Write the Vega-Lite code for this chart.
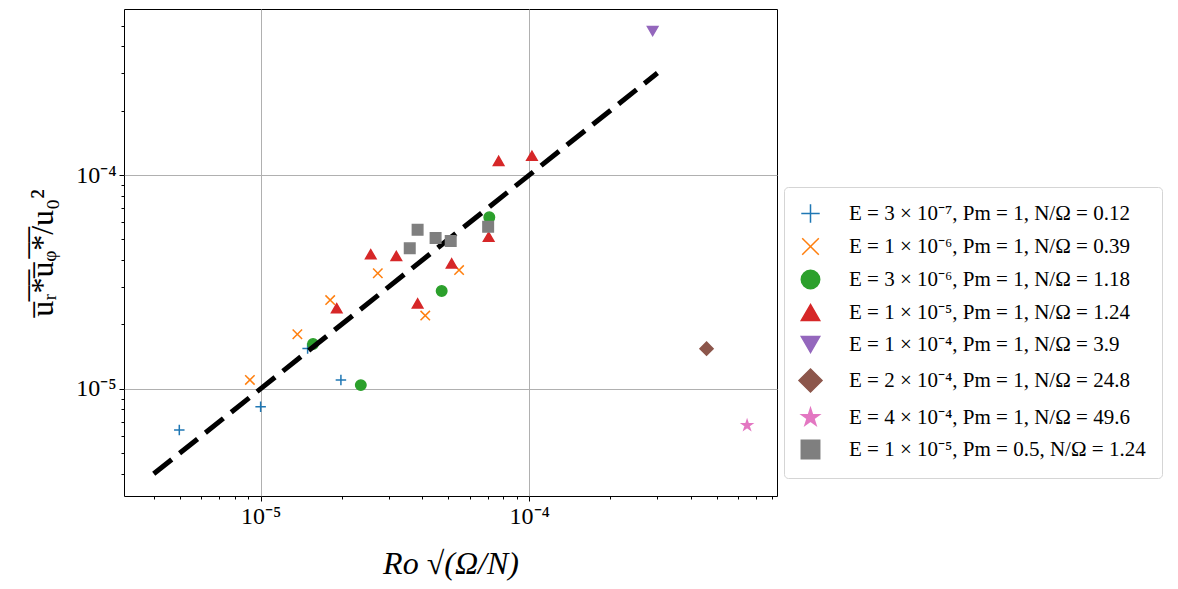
{
  "$schema": "https://vega.github.io/schema/vega-lite/v6.json",
  "width": 653,
  "height": 487,
  "autosize": {"type": "none"},
  "padding": {"left": 124, "top": 9, "right": 401, "bottom": 93},
  "background": "white",
  "datasets": {
    "pts": [
      {"ro": 4.98e-6, "flux": 6.41e-6, "case": "E = 3 × 10⁻⁷, Pm = 1, N/Ω = 0.12"},
      {"ro": 1.0e-5, "flux": 8.24e-6, "case": "E = 3 × 10⁻⁷, Pm = 1, N/Ω = 0.12"},
      {"ro": 1.496e-5, "flux": 1.545e-5, "case": "E = 3 × 10⁻⁷, Pm = 1, N/Ω = 0.12"},
      {"ro": 1.99e-5, "flux": 1.10e-5, "case": "E = 3 × 10⁻⁷, Pm = 1, N/Ω = 0.12"},
      {"ro": 9.12e-6, "flux": 1.10e-5, "case": "E = 1 × 10⁻⁶, Pm = 1, N/Ω = 0.39"},
      {"ro": 1.37e-5, "flux": 1.80e-5, "case": "E = 1 × 10⁻⁶, Pm = 1, N/Ω = 0.39"},
      {"ro": 1.815e-5, "flux": 2.60e-5, "case": "E = 1 × 10⁻⁶, Pm = 1, N/Ω = 0.39"},
      {"ro": 2.73e-5, "flux": 3.47e-5, "case": "E = 1 × 10⁻⁶, Pm = 1, N/Ω = 0.39"},
      {"ro": 4.10e-5, "flux": 2.20e-5, "case": "E = 1 × 10⁻⁶, Pm = 1, N/Ω = 0.39"},
      {"ro": 5.48e-5, "flux": 3.59e-5, "case": "E = 1 × 10⁻⁶, Pm = 1, N/Ω = 0.39"},
      {"ro": 1.567e-5, "flux": 1.62e-5, "case": "E = 3 × 10⁻⁶, Pm = 1, N/Ω = 1.18"},
      {"ro": 2.36e-5, "flux": 1.04e-5, "case": "E = 3 × 10⁻⁶, Pm = 1, N/Ω = 1.18"},
      {"ro": 4.72e-5, "flux": 2.87e-5, "case": "E = 3 × 10⁻⁶, Pm = 1, N/Ω = 1.18"},
      {"ro": 7.10e-5, "flux": 6.35e-5, "case": "E = 3 × 10⁻⁶, Pm = 1, N/Ω = 1.18"},
      {"ro": 1.92e-5, "flux": 2.38e-5, "case": "E = 1 × 10⁻⁵, Pm = 1, N/Ω = 1.24"},
      {"ro": 2.57e-5, "flux": 4.26e-5, "case": "E = 1 × 10⁻⁵, Pm = 1, N/Ω = 1.24"},
      {"ro": 3.20e-5, "flux": 4.18e-5, "case": "E = 1 × 10⁻⁵, Pm = 1, N/Ω = 1.24"},
      {"ro": 3.84e-5, "flux": 2.51e-5, "case": "E = 1 × 10⁻⁵, Pm = 1, N/Ω = 1.24"},
      {"ro": 5.14e-5, "flux": 3.86e-5, "case": "E = 1 × 10⁻⁵, Pm = 1, N/Ω = 1.24"},
      {"ro": 7.06e-5, "flux": 5.14e-5, "case": "E = 1 × 10⁻⁵, Pm = 1, N/Ω = 1.24"},
      {"ro": 7.69e-5, "flux": 1.165e-4, "case": "E = 1 × 10⁻⁵, Pm = 1, N/Ω = 1.24"},
      {"ro": 1.023e-4, "flux": 1.23e-4, "case": "E = 1 × 10⁻⁵, Pm = 1, N/Ω = 1.24"},
      {"ro": 2.88e-4, "flux": 4.72e-4, "case": "E = 1 × 10⁻⁴, Pm = 1, N/Ω = 3.9"},
      {"ro": 4.57e-4, "flux": 1.54e-5, "case": "E = 2 × 10⁻⁴, Pm = 1, N/Ω = 24.8"},
      {"ro": 6.47e-4, "flux": 6.74e-6, "case": "E = 4 × 10⁻⁴, Pm = 1, N/Ω = 49.6"},
      {"ro": 3.84e-5, "flux": 5.54e-5, "case": "E = 1 × 10⁻⁵, Pm = 0.5, N/Ω = 1.24"},
      {"ro": 4.48e-5, "flux": 5.07e-5, "case": "E = 1 × 10⁻⁵, Pm = 0.5, N/Ω = 1.24"},
      {"ro": 3.59e-5, "flux": 4.54e-5, "case": "E = 1 × 10⁻⁵, Pm = 0.5, N/Ω = 1.24"},
      {"ro": 5.10e-5, "flux": 4.91e-5, "case": "E = 1 × 10⁻⁵, Pm = 0.5, N/Ω = 1.24"},
      {"ro": 7.03e-5, "flux": 5.73e-5, "case": "E = 1 × 10⁻⁵, Pm = 0.5, N/Ω = 1.24"}
    ],
    "fit": [
      {"ro": 4.0e-6, "flux": 4.0e-6},
      {"ro": 3.0e-4, "flux": 3.0e-4}
    ]
  },
  "config": {
    "view": {"stroke": "black", "strokeWidth": 1},
    "axis": {
      "domain": false,
      "grid": true,
      "gridColor": "#b0b0b0",
      "gridWidth": 1,
      "gridOpacity": {"condition": {"test": "abs(log(datum.value)/LN10 - round(log(datum.value)/LN10)) < 0.001", "value": 1}, "value": 0},
      "tickColor": "black",
      "tickWidth": 1,
      "tickSize": {"condition": {"test": "abs(log(datum.value)/LN10 - round(log(datum.value)/LN10)) < 0.001", "value": 5}, "value": 3},
      "labelFont": "Liberation Serif",
      "labelFontSize": 24,
      "labelColor": "black",
      "labelOverlap": false,
      "labelFlush": false,
      "labelPadding": 3,
      "titleFont": "Liberation Serif",
      "titleFontSize": 32,
      "titleFontWeight": "normal",
      "titleColor": "black"
    },
    "legend": {
      "orient": "none",
      "legendX": 660,
      "legendY": 178,
      "padding": 16,
      "strokeColor": "#d5d5d5",
      "fillColor": "white",
      "cornerRadius": 4,
      "labelFont": "Liberation Serif",
      "labelFontSize": 21,
      "labelColor": "black",
      "labelLimit": 500,
      "labelOffset": 28,
      "rowPadding": 9,
      "symbolSize": 340,
      "symbolStrokeWidth": 1.5
    }
  },
  "encoding": {
    "x": {
      "field": "ro", "type": "quantitative",
      "scale": {"type": "log", "domain": [3.1e-6, 8.36e-4], "nice": false},
      "axis": {
        "title": "Ro √(Ω/N)",
        "titleFontStyle": "italic",
        "titlePadding": 20,
        "values": [4e-6, 5e-6, 6e-6, 7e-6, 8e-6, 9e-6, 1e-5, 2e-5, 3e-5, 4e-5, 5e-5, 6e-5, 7e-5, 8e-5, 9e-5, 1e-4, 2e-4, 3e-4, 4e-4, 5e-4, 6e-4, 7e-4, 8e-4],
        "labelExpr": "abs(log(datum.value)/LN10 + 5) < 0.01 ? '10⁻⁵' : (abs(log(datum.value)/LN10 + 4) < 0.01 ? '10⁻⁴' : '')"
      }
    },
    "y": {
      "field": "flux", "type": "quantitative",
      "scale": {"type": "log", "domain": [3.15e-6, 5.98e-4], "nice": false},
      "axis": {
        "title": "u\u0305\u1d63\u0305*\u0305u\u0305\u1d69\u0305*\u0305/u\u2080\u00b2",
        "titlePadding": 16,
        "values": [4e-6, 5e-6, 6e-6, 7e-6, 8e-6, 9e-6, 1e-5, 2e-5, 3e-5, 4e-5, 5e-5, 6e-5, 7e-5, 8e-5, 9e-5, 1e-4, 2e-4, 3e-4, 4e-4, 5e-4],
        "labelExpr": "abs(log(datum.value)/LN10 + 5) < 0.01 ? '10⁻⁵' : (abs(log(datum.value)/LN10 + 4) < 0.01 ? '10⁻⁴' : '')"
      }
    }
  },
  "layer": [
    {
      "data": {"name": "pts"},
      "transform": [{"filter": "datum.case != 'E = 1 × 10⁻⁵, Pm = 0.5, N/Ω = 1.24'"}],
      "mark": {"type": "point", "filled": true, "size": 110, "strokeWidth": 1.5, "opacity": 1},
      "encoding": {
        "shape": {"field": "case", "type": "nominal", "legend": {"title": null},
          "scale": {
            "domain": ["E = 3 × 10⁻⁷, Pm = 1, N/Ω = 0.12", "E = 1 × 10⁻⁶, Pm = 1, N/Ω = 0.39", "E = 3 × 10⁻⁶, Pm = 1, N/Ω = 1.18", "E = 1 × 10⁻⁵, Pm = 1, N/Ω = 1.24", "E = 1 × 10⁻⁴, Pm = 1, N/Ω = 3.9", "E = 2 × 10⁻⁴, Pm = 1, N/Ω = 24.8", "E = 4 × 10⁻⁴, Pm = 1, N/Ω = 49.6", "E = 1 × 10⁻⁵, Pm = 0.5, N/Ω = 1.24"],
            "range": ["M-1,0H1M0,-1V1", "M-0.9,-0.9L0.9,0.9M-0.9,0.9L0.9,-0.9", "circle", "triangle-up", "triangle-down", "M0,-1.25L1.25,0L0,1.25L-1.25,0Z", "M0,-1L0.225,-0.309L0.951,-0.309L0.363,0.118L0.588,0.809L0,0.382L-0.588,0.809L-0.363,0.118L-0.951,-0.309L-0.225,-0.309Z", "square"]
          }
        },
        "fill": {"field": "case", "type": "nominal", "legend": {"title": null},
          "scale": {
            "domain": ["E = 3 × 10⁻⁷, Pm = 1, N/Ω = 0.12", "E = 1 × 10⁻⁶, Pm = 1, N/Ω = 0.39", "E = 3 × 10⁻⁶, Pm = 1, N/Ω = 1.18", "E = 1 × 10⁻⁵, Pm = 1, N/Ω = 1.24", "E = 1 × 10⁻⁴, Pm = 1, N/Ω = 3.9", "E = 2 × 10⁻⁴, Pm = 1, N/Ω = 24.8", "E = 4 × 10⁻⁴, Pm = 1, N/Ω = 49.6", "E = 1 × 10⁻⁵, Pm = 0.5, N/Ω = 1.24"],
            "range": ["#1f77b4", "#ff7f0e", "#2ca02c", "#d62728", "#9467bd", "#8c564b", "#e377c2", "#7f7f7f"]
          }
        },
        "stroke": {"field": "case", "type": "nominal", "legend": {"title": null},
          "scale": {
            "domain": ["E = 3 × 10⁻⁷, Pm = 1, N/Ω = 0.12", "E = 1 × 10⁻⁶, Pm = 1, N/Ω = 0.39", "E = 3 × 10⁻⁶, Pm = 1, N/Ω = 1.18", "E = 1 × 10⁻⁵, Pm = 1, N/Ω = 1.24", "E = 1 × 10⁻⁴, Pm = 1, N/Ω = 3.9", "E = 2 × 10⁻⁴, Pm = 1, N/Ω = 24.8", "E = 4 × 10⁻⁴, Pm = 1, N/Ω = 49.6", "E = 1 × 10⁻⁵, Pm = 0.5, N/Ω = 1.24"],
            "range": ["#1f77b4", "#ff7f0e", "#2ca02c", "#d62728", "#9467bd", "#8c564b", "#e377c2", "#7f7f7f"]
          }
        }
      }
    },
    {
      "data": {"name": "fit"},
      "mark": {"type": "line", "color": "black", "strokeWidth": 5, "strokeDash": [23, 10], "strokeCap": "butt"},
      "encoding": {}
    },
    {
      "data": {"name": "pts"},
      "transform": [{"filter": "datum.case == 'E = 1 × 10⁻⁵, Pm = 0.5, N/Ω = 1.24'"}],
      "mark": {"type": "point", "filled": true, "size": 110, "strokeWidth": 1.5, "opacity": 1},
      "encoding": {
        "shape": {"field": "case", "type": "nominal", "legend": {"title": null}},
        "fill": {"field": "case", "type": "nominal", "legend": {"title": null}},
        "stroke": {"field": "case", "type": "nominal", "legend": {"title": null}}
      }
    }
  ]
}
